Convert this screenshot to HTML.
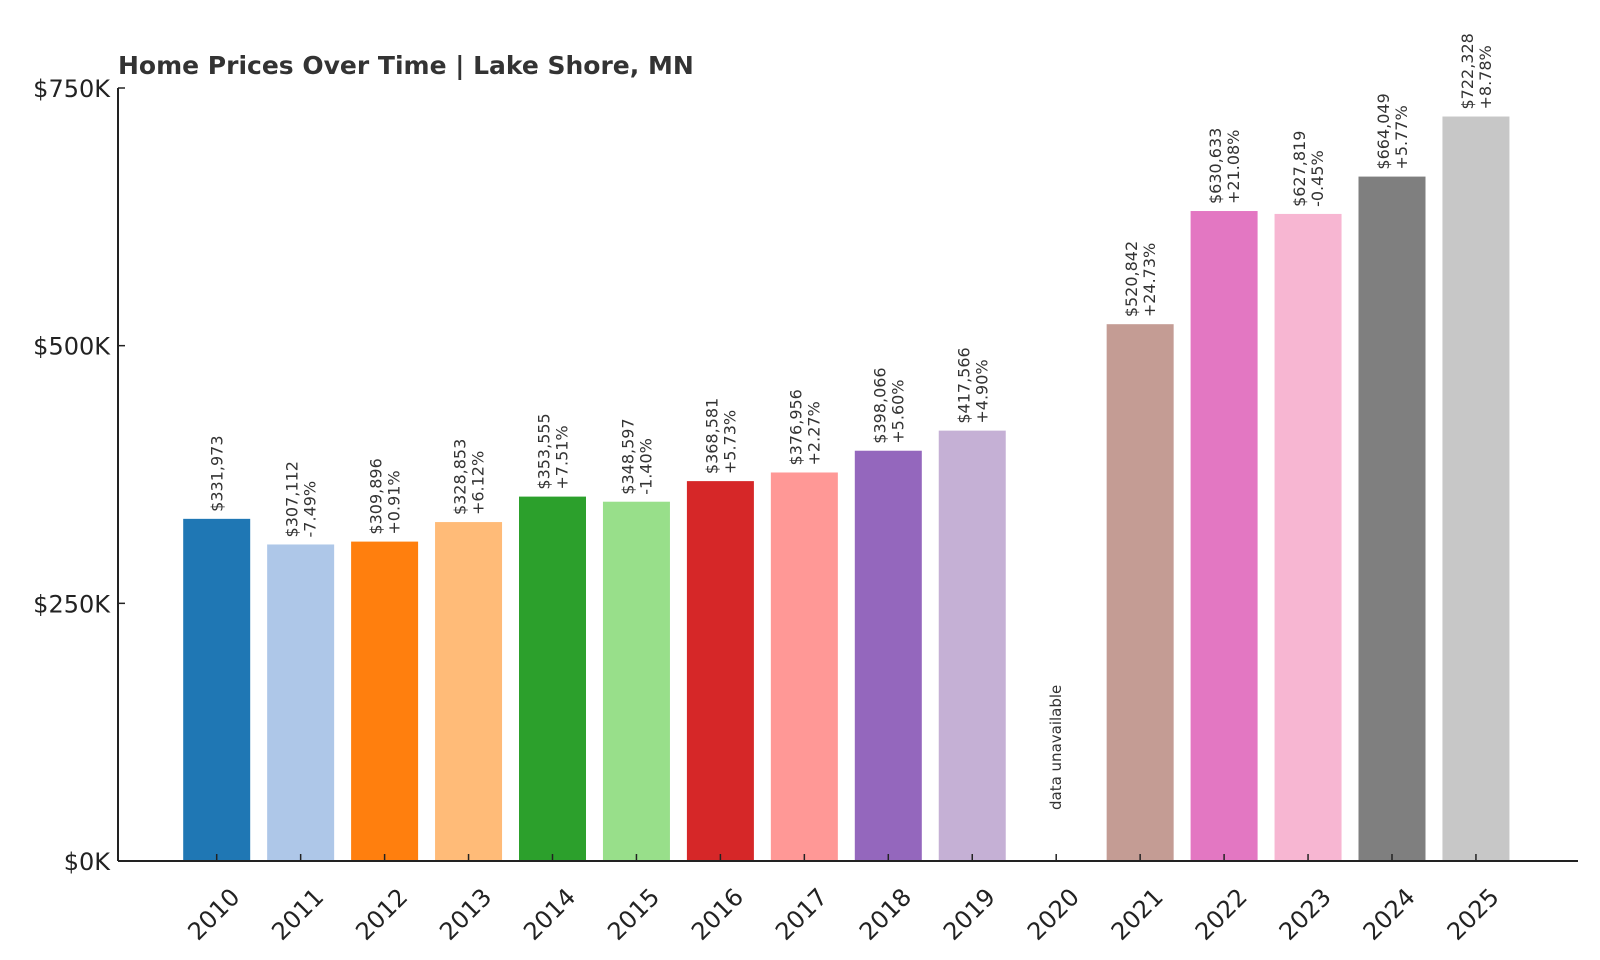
<!DOCTYPE html>
<html><head><meta charset="utf-8"><style>
body{margin:0;background:#fff;}
svg{display:block;font-family:"DejaVu Sans","Liberation Sans",sans-serif;}
</style></head><body>
<svg id="chart" width="1600" height="960" viewBox="0 0 1600 960">
<text x="118" y="74" font-size="25" font-weight="bold" fill="#333">Home Prices Over Time | Lake Shore, MN</text>
<g id="bars"></g><g id="axes"></g>
</svg>
<script>
const years=["2010","2011","2012","2013","2014","2015","2016","2017","2018","2019","2020","2021","2022","2023","2024","2025"];
const values=[331973,307112,309896,328853,353555,348597,368581,376956,398066,417566,null,520842,630633,627819,664049,722328];
const changes=[null,"-7.49%","+0.91%","+6.12%","+7.51%","-1.40%","+5.73%","+2.27%","+5.60%","+4.90%",null,"+24.73%","+21.08%","-0.45%","+5.77%","+8.78%"];
const yTicks=[0,250000,500000,750000];
const yTickLabels=["$0K","$250K","$500K","$750K"];
const colors=["#1f77b4","#aec7e8","#ff7f0e","#ffbb78","#2ca02c","#98df8a","#d62728","#ff9896","#9467bd","#c5b0d5","#8c564b","#c49c94","#e377c2","#f7b6d2","#7f7f7f","#c7c7c7"];
const NS="http://www.w3.org/2000/svg";
const y0=861,yTop=88,x0=118,x1=1578;
const ys=v=>y0-v/750000*(y0-yTop);
const xs=i=>216.7+i*83.95;
const bw=67;
function mk(tag,attrs,parent){const e=document.createElementNS(NS,tag);for(const k in attrs)e.setAttribute(k,attrs[k]);parent.appendChild(e);return e;}
const bars=document.getElementById('bars'),axes=document.getElementById('axes');
years.forEach((yr,i)=>{
  const cx=xs(i);
  if(values[i]==null){
    const t=mk('text',{x:0,y:0,transform:`translate(${cx+5},810) rotate(-90)`,'font-size':15,fill:'#333'},bars);
    t.textContent='data unavailable';
    
    
  } else {
    const top=ys(values[i]);
    const r=mk('rect',{x:cx-bw/2,y:top,width:bw,height:y0-top,fill:colors[i]},bars);
    
    
    const two=changes[i]!=null;
    const t1=mk('text',{x:0,y:0,transform:`translate(${two?cx-3:cx+6},${top-7}) rotate(-90)`,'font-size':16,fill:'#333'},bars);
    t1.textContent='$'+values[i].toLocaleString('en-US');
    
    
    if(two){
      const t2=mk('text',{x:0,y:0,transform:`translate(${cx+15},${top-7}) rotate(-90)`,'font-size':16,fill:'#333'},bars);
      t2.textContent=changes[i];
      
      
    }
  }
  mk('line',{x1:cx,x2:cx,y1:y0,y2:y0-7,stroke:'#222','stroke-width':1.5},axes);
  const xl=mk('text',{x:0,y:0,transform:`translate(${cx+12},${y0+25}) rotate(-45)`,'font-size':24,fill:'#222','text-anchor':'end','dominant-baseline':'hanging'},axes);
  xl.textContent=yr;
  
  
});
yTicks.forEach((v,i)=>{
  const y=ys(v);
  mk('line',{x1:x0,x2:x0+7,y1:y,y2:y,stroke:'#222','stroke-width':1.5},axes);
  const t=mk('text',{x:x0-8,y:y+9,'font-size':24,fill:'#222','text-anchor':'end'},axes);
  t.textContent=yTickLabels[i];
  
  
});
const ya=mk('line',{x1:x0,x2:x0,y1:yTop,y2:y0,stroke:'#222','stroke-width':2},axes);


const xa=mk('line',{x1:x0,x2:x1,y1:y0,y2:y0,stroke:'#222','stroke-width':2},axes);


</script>
</body></html>
